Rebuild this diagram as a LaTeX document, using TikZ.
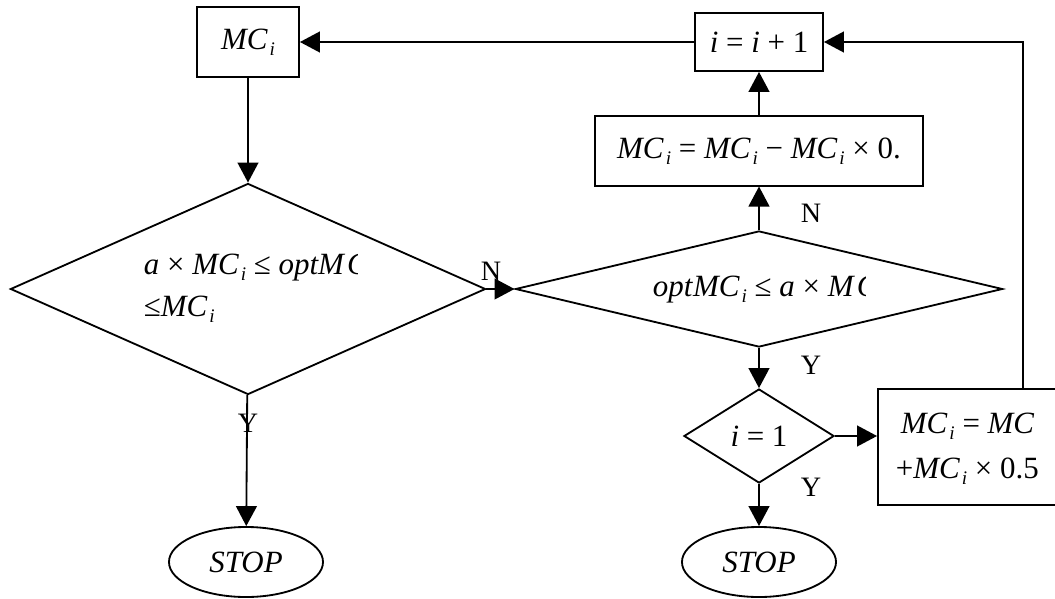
\documentclass[tikz,border=0pt]{standalone}
\usepackage{fontspec}
\setmainfont{Liberation Serif}
\usetikzlibrary{shapes.geometric,arrows.meta}
\newcommand{\mc}{\textit{MC}\kern0.06em\raisebox{-0.2em}{\scalebox{0.62}{\textit{i}}}}

\begin{document}
\begin{tikzpicture}[x=0.025cm,y=-0.025cm,line width=1.3pt,font=\fontsize{22}{26}\selectfont]
\tikzstyle{box}=[draw,rectangle,inner sep=0pt];
\tikzstyle{cond}=[draw,diamond,inner sep=0pt];
\tikzstyle{stop}=[draw,ellipse,inner sep=0pt,minimum width=3.85cm,minimum height=1.75cm];
\tikzstyle{alloc}=[-{Triangle[length=0.5cm,width=0.52cm]}];
\tikzstyle{txt}=[inner sep=0pt,anchor=base west];
\tikzstyle{lab}=[font=\fontsize{20}{22}\selectfont];
\useasboundingbox (0,0) rectangle (1055,599);
\clip (0,0) rectangle (1055,599);

\node [box,minimum width=2.55cm,minimum height=1.75cm] (v1) at (248,42) {\mc};
\node [box,minimum width=3.2cm,minimum height=1.45cm] (v2) at (759,42) {\textit{i} = \textit{i} + 1};
\node [box,minimum width=8.2cm,minimum height=1.73cm] (v3) at (759,151) {\mc{} = \mc{} − \mc{} × 0.};
\node [cond,minimum width=11.875cm,minimum height=5.275cm] (v4) at (248,289) {};
\node [cond,minimum width=12.175cm,minimum height=2.9cm] (v5) at (759,289) {};
\node [cond,minimum width=3.75cm,minimum height=2.35cm] (v6) at (759,436) {\textit{i} = 1};
\node [box,minimum width=5cm,minimum height=2.9cm] (v7) at (978,447) {};
\node [stop] (v8) at (246,562) {\textit{STOP}};
\node [stop] (v9) at (759,562) {\textit{STOP}};

% texts of the conditions
\node [txt] (t1) at (143,274) {\textit{a} × \mc{} ≤ \textit{optM}};
\begin{scope}
\clip ([yshift=-8pt]t1.base east) rectangle ++(0.28cm,30pt);
\node [txt] (t1c) at (t1.base east) {\textit{C}};
\end{scope}
\node [txt] (t2) at (143,316) {≤\mc};
\node [txt] (t3) at (652,296) {\textit{opt}\mc{} ≤ \textit{a} × \textit{M}};
\begin{scope}
\clip ([yshift=-8pt]t3.base east) rectangle ++(0.25cm,30pt);
\node [txt] (t3c) at (t3.base east) {\textit{C}};
\end{scope}
\node [txt] (t5) at (900,433) {\mc{} = \textit{MC}};
\node [txt] (t6) at (895,478) {+\mc{} × 0.5};

\node [lab] (n1) at (491,271) {N};
\node [lab] (n2) at (811,213) {N};
\node [lab] (y1) at (811,365) {Y};
\node [lab] (y2) at (811,487) {Y};
\node [lab] (y3) at (248,423) {Y};

\draw [alloc] (v2) edge (v1);
\draw [alloc] (v3) edge (v2);
\draw [alloc] (v1) edge (v4);
\draw [alloc] (v4) edge (v5);
\draw [alloc] (v5) edge (v3);
\draw [alloc] (v5) edge (v6);
\draw [alloc] (v6) edge (v6 -| v7.west);
\draw [alloc] (v6) edge (v9);
\draw [alloc] (v4) edge (v8);
\coordinate (v10) at (1023,0);
\draw [alloc] (v10 |- v7.north) |- (v2);
\end{tikzpicture}
\end{document}
